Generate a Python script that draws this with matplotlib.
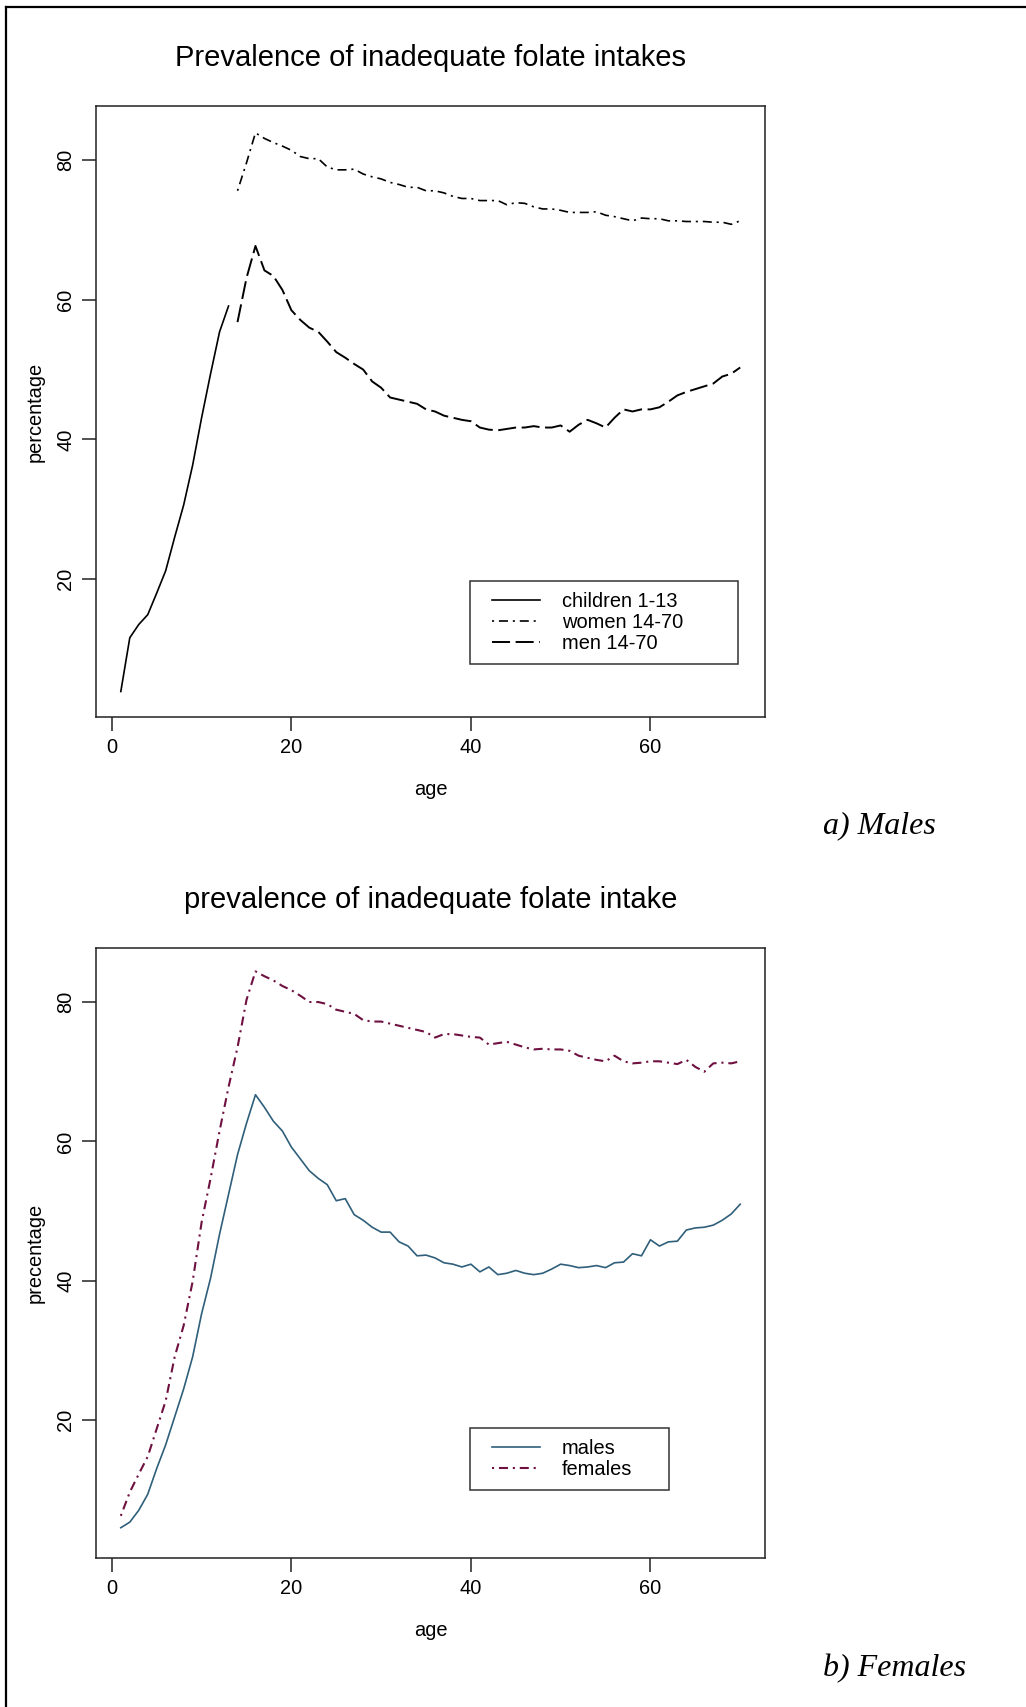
import matplotlib
matplotlib.use("Agg")
import matplotlib.pyplot as plt
from matplotlib.lines import Line2D
from matplotlib.legend_handler import HandlerLine2D

plt.rcParams["font.family"] = ["Liberation Sans", "DejaVu Sans"]
plt.rcParams["lines.scale_dashes"] = False

# panel a) males
age_children = list(range(1, 14))
children = [3.9, 11.6, 13.5, 14.9, 18.0, 21.2, 26.0, 30.6, 36.3, 43.1, 49.4, 55.4, 59.1]

age_adult = list(range(14, 71))
women = [75.6, 79.6, 83.9, 83.1, 82.5, 82.0, 81.4, 80.5, 80.2, 80.2,
         79.0, 78.6, 78.6, 78.7, 78.0, 77.6, 77.3, 76.8, 76.5, 76.1,
         76.1, 75.6, 75.6, 75.3, 74.8, 74.5, 74.5, 74.2, 74.2, 74.2,
         73.6, 73.9, 73.8, 73.3, 73.0, 73.0, 72.8, 72.5, 72.5, 72.5,
         72.6, 72.1, 71.9, 71.6, 71.3, 71.7, 71.6, 71.6, 71.3, 71.3,
         71.2, 71.2, 71.2, 71.1, 71.1, 70.8, 71.3]
men = [56.8, 63.1, 67.7, 64.2, 63.4, 61.4, 58.5, 57.1, 56.0, 55.4,
       54.0, 52.5, 51.7, 50.8, 50.0, 48.3, 47.4, 46.0, 45.7, 45.4,
       45.1, 44.3, 44.0, 43.4, 43.1, 42.8, 42.6, 41.7, 41.4, 41.3,
       41.5, 41.7, 41.7, 41.9, 41.7, 41.7, 42.0, 41.1, 42.1, 42.8,
       42.3, 41.7, 43.1, 44.3, 44.0, 44.3, 44.3, 44.6, 45.4, 46.3,
       46.8, 47.2, 47.6, 48.0, 49.0, 49.4, 50.3]

# panel b) females
age_all = list(range(1, 71))
males = [4.6, 5.4, 7.1, 9.4, 13.1, 16.5, 20.5, 24.5, 29.1, 35.3,
         40.4, 46.7, 52.4, 58.1, 62.6, 66.7, 64.9, 62.9, 61.5, 59.2,
         57.5, 55.8, 54.7, 53.8, 51.5, 51.8, 49.5, 48.7, 47.7, 47.0,
         47.0, 45.6, 45.0, 43.6, 43.7, 43.3, 42.6, 42.4, 42.0, 42.4,
         41.3, 42.0, 40.9, 41.1, 41.5, 41.1, 40.9, 41.1, 41.7, 42.4,
         42.2, 41.9, 42.0, 42.2, 41.9, 42.6, 42.7, 43.9, 43.6, 45.9,
         45.0, 45.6, 45.7, 47.3, 47.6, 47.7, 48.0, 48.7, 49.6, 51.0]
females = [6.3, 9.7, 12.3, 14.8, 18.8, 22.8, 29.1, 33.6, 39.9, 48.4,
           54.7, 61.5, 67.8, 73.5, 80.3, 84.4, 83.7, 83.1, 82.3, 81.7,
           80.9, 80.0, 80.0, 79.7, 78.9, 78.6, 78.3, 77.4, 77.2, 77.2,
           76.9, 76.6, 76.3, 76.0, 75.7, 74.9, 75.4, 75.4, 75.2, 75.0,
           74.9, 73.9, 74.1, 74.3, 73.9, 73.5, 73.2, 73.3, 73.2, 73.2,
           73.0, 72.3, 72.0, 71.7, 71.5, 72.3, 71.5, 71.2, 71.3, 71.5,
           71.5, 71.3, 71.1, 71.7, 70.7, 70.0, 71.2, 71.3, 71.2, 71.5]

dotdash = (0, (1.5, 3.5, 6.5, 3.5))
longdash = (0, (13, 4))
fs = 14.4

fig = plt.figure(figsize=(10.26, 17.07), dpi=100)
ax1 = fig.add_axes([0.0936, 0.58, 0.652, 0.3579])
ax2 = fig.add_axes([0.0936, 0.0873, 0.652, 0.3573])

ax1.plot(age_children, children, color="black", lw=1.2, label="children 1-13")
ax1.plot(age_adult, women, color="black", lw=1.2, linestyle=dotdash, label="women 14-70")
ax1.plot(age_adult, men, color="black", lw=1.4, linestyle=longdash, label="men 14-70")

ax2.plot(age_all, males, color="#2f5f7a", lw=1.2, label="males")
ax2.plot(age_all, females, color="#6e1040", lw=1.5, linestyle=dotdash, label="females")

for ax, ylab in [(ax1, "percentage"), (ax2, "precentage")]:
    ax.set_xlim(-1.76, 72.76)
    ax.set_ylim(0.26, 87.74)
    ax.set_xticks([0, 20, 40, 60])
    ax.set_yticks([20, 40, 60, 80])
    ax.tick_params(length=10, width=1.1, pad=5, labelsize=fs, color="#222222")
    for lab in ax.get_yticklabels():
        lab.set_rotation(90)
        lab.set_va("center")
    for sp in ax.spines.values():
        sp.set_linewidth(1.1)
        sp.set_color("#222222")
    ax.set_ylabel(ylab, fontsize=fs, labelpad=8)
    ax.set_xlabel("age", fontsize=fs, labelpad=17)

ax1.set_title("Prevalence of inadequate folate intakes", fontsize=21, pad=29)
ax2.set_title("prevalence of inadequate folate intake", fontsize=21, pad=29)

leg_kw = dict(loc="lower left", mode="expand", fontsize=fs, fancybox=False,
              handlelength=2.95, handletextpad=1.1, labelspacing=0.1,
              borderpad=0.55, borderaxespad=0,
              handler_map={Line2D: HandlerLine2D(xpad=0.54)})
l1 = ax1.legend(bbox_to_anchor=(0.559, 0.087, 0.401, 0.137), **leg_kw)
l2 = ax2.legend(bbox_to_anchor=(0.559, 0.111, 0.297, 0.104), **leg_kw)
for lg in (l1, l2):
    lg.get_frame().set_edgecolor("black")
    lg.get_frame().set_linewidth(1.1)

fig.text(823 / 1026, 1 - 826 / 1707, "a) Males", fontsize=23, style="italic",
         family="Liberation Serif", va="center", ha="left")
fig.text(823 / 1026, 1 - 1669 / 1707, "b) Females", fontsize=23, style="italic",
         family="Liberation Serif", va="center", ha="left")

# page border (left and top)
fig.add_artist(Line2D([6 / 1026, 6 / 1026], [0, 1 - 7 / 1707], color="black", lw=1.6))
fig.add_artist(Line2D([6 / 1026, 1], [1 - 7 / 1707, 1 - 7 / 1707], color="black", lw=1.6))

fig.savefig("out.png", dpi=100)
